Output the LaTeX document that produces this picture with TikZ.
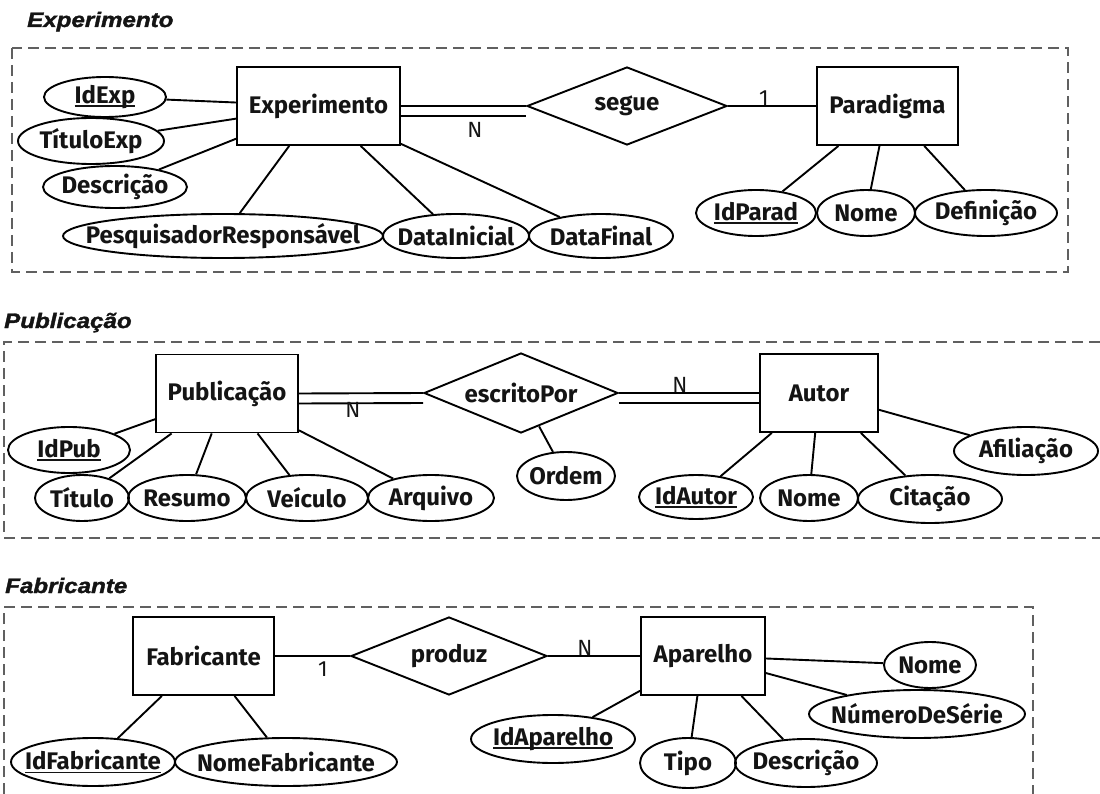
\documentclass[tikz,border=0pt]{standalone}
\usepackage{graphicx}
\usepackage{fontspec}
\setmainfont{Fira Sans}
\newfontface\titlefont{Liberation Sans Bold Italic}[FakeBold=1.5]
\usetikzlibrary{shapes.geometric}
\definecolor{ink}{HTML}{141414}
\definecolor{frame}{HTML}{606060}
\newcommand\lblfont{\fontsize{24}{26}\selectfont\bfseries}
\newcommand\cardfont{\fontsize{22}{24}\selectfont}
% section heading: bold italic sans, widened
\newcommand\headtext[1]{\scalebox{1.15}[1]{\titlefont\fontsize{21}{24}\selectfont #1}}
% label of fixed-size attribute ellipse (text takes no width)
\newcommand\at[1]{\makebox[0pt]{#1}}
% primary-key attribute: underlined label
\newcommand\pk[1]{\setbox0\hbox{#1}\rlap{\rule[-3.5pt]{\wd0}{1.8pt}}\box0}

\begin{document}
\begin{tikzpicture}[x=1pt,y=-1pt,
  every node/.style={text=ink},
  entity/.style={draw, line width=1.9pt, rectangle, inner sep=0pt,
                 minimum width=#1, minimum height=78pt, font=\lblfont},
  attr/.style 2 args={draw, line width=1.9pt, ellipse, inner sep=0pt,
                 minimum width=#1, minimum height=#2, font=\lblfont},
  relation/.style 2 args={draw, line width=1.9pt, diamond, inner sep=0pt,
                 aspect=2.5, minimum width=#1, minimum height=#2, font=\lblfont},
  link/.style={line width=1.9pt},
  card/.style={font=\cardfont, inner sep=0pt},
  region/.style={draw=frame, line width=2pt, dash pattern=on 11pt off 6pt},
  heading/.style={inner sep=0pt, anchor=base west}]

\useasboundingbox (0,0) rectangle (1100,794);

% ---------------- Experimento ----------------
\node[heading] (hexp) at (27,27) {\headtext{Experimento}};
\draw[region] (12,48) rectangle (1068,272);

\node[entity=163] (exp) at (318.5,106) {Experimento};
\node[relation={200}{78}] (segue) at (627,106) {segue};
\node[entity=141] (parad) at (887.5,106) {Paradigma};

\node[attr={122}{40}] (idexp) at (105,97) {\at{\pk{IdExp}}};
\node[attr={146}{46}] (titexp) at (91,141) {\at{TítuloExp}};
\node[attr={144}{42}] (descexp) at (115,187) {\at{Descrição}};
\node[attr={320}{44}] (pesq) at (223,236) {\at{PesquisadorResponsável}};
\node[attr={146}{44}] (dini) at (456,236) {\at{DataInicial}};
\node[attr={144}{44}] (dfim) at (601,236) {\at{DataFinal}};
\node[attr={120}{46}] (idparad) at (756,213) {\at{\pk{IdParad}}};
\node[attr={98}{46}] (nomepar) at (866,213) {\at{Nome}};
\node[attr={142}{46}] (defpar) at (986,213) {\at{Definição}};

\draw[link] (exp.east) -- (segue.west);
\draw[link] ([yshift=-10pt]exp.east) -- ([yshift=-10pt]segue.west);
\draw[link] (segue.east) -- (parad.west);
\node[card] (cexp) at (475,130) {N};
\node[card] (cpar) at (764,98) {1};

\foreach \a in {idexp,titexp,descexp,pesq,dini,dfim} \draw[link] (exp) -- (\a);
\foreach \a in {idparad,nomepar,defpar} \draw[link] (parad) -- (\a);

% ---------------- Publicação ----------------
\node[heading] (hpub) at (4,328) {\headtext{Publicação}};
\draw[region] (1100,342) -- (4,342) -- (4,538) -- (1100,538);

\node[entity=142] (pub) at (227,393.5) {Publicação};
\node[relation={194}{80}] (escr) at (521,393) {escritoPor};
\node[entity=118] (autor) at (819,393) {Autor};

\node[attr={122}{46}] (idpub) at (69,450) {\at{\pk{IdPub}}};
\node[attr={94}{46}] (titpub) at (82,498) {\at{Título}};
\node[attr={118}{46}] (respub) at (187,498) {\at{Resumo}};
\node[attr={122}{46}] (veipub) at (307,498) {\at{Veículo}};
\node[attr={126}{46}] (arqpub) at (431,498) {\at{Arquivo}};
\node[attr={98}{48}] (ordem) at (566,476) {\at{Ordem}};
\node[attr={114}{44}] (idautor) at (696,497) {\at{\pk{IdAutor}}};
\node[attr={98}{46}] (nomeaut) at (809,498) {\at{Nome}};
\node[attr={144}{48}] (citaut) at (930,499) {\at{Citação}};
\node[attr={144}{48}] (afiaut) at (1026,451) {\at{Afiliação}};

\draw[link] (pub.east) -- (escr.west);
\draw[link] ([yshift=-10pt]pub.east) -- ([yshift=-10pt]escr.west);
\draw[link] (escr.east) -- (autor.west);
\draw[link] ([yshift=-10pt]escr.east) -- ([yshift=-10pt]autor.west);
\node[card] (cpub) at (353,410) {N};
\node[card] (caut) at (680,385) {N};

\foreach \a in {idpub,titpub,respub,veipub,arqpub} \draw[link] (pub) -- (\a);
\draw[link] (escr) -- (ordem);
\foreach \a in {idautor,nomeaut,citaut,afiaut} \draw[link] (autor) -- (\a);

% ---------------- Fabricante ----------------
\node[heading] (hfab) at (5,593) {\headtext{Fabricante}};
\draw[region] (4,794) -- (4,607) -- (1033,607) -- (1033,794);

\node[entity=141] (fab) at (203.5,656) {Fabricante};
\node[relation={196}{78}] (produz) at (449,656) {produz};
\node[entity=124] (apar) at (703,656) {Aparelho};

\node[attr={164}{48}] (idfab) at (93,762) {\at{\pk{IdFabricante}}};
\node[attr={222}{48}] (nomefab) at (286,762) {\at{NomeFabricante}};
\node[attr={92}{46}] (nomeap) at (930,665) {\at{Nome}};
\node[attr={216}{48}] (serie) at (917,714) {\at{NúmeroDeSérie}};
\node[attr={164}{48}] (idap) at (553,739) {\at{\pk{IdAparelho}}};
\node[attr={96}{50}] (tipo) at (688,763) {\at{Tipo}};
\node[attr={142}{48}] (descap) at (806,763) {\at{Descrição}};

\draw[link] (fab) -- (produz);
\draw[link] (produz) -- (apar);
\node[card] (cfab) at (323,669) {1};
\node[card] (capar) at (585,648) {N};

\foreach \a in {idfab,nomefab} \draw[link] (fab) -- (\a);
\foreach \a in {nomeap,serie,idap,tipo,descap} \draw[link] (apar) -- (\a);

\end{tikzpicture}
\end{document}
